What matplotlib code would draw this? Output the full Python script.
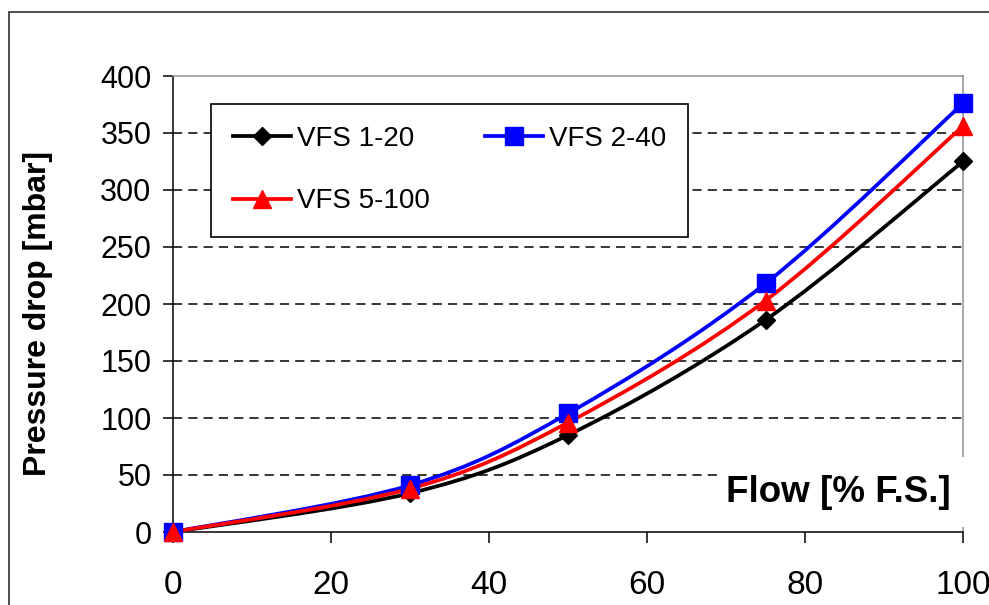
import numpy as np
import matplotlib.pyplot as plt
from matplotlib.path import Path
from matplotlib.patches import PathPatch, Rectangle
from matplotlib.lines import Line2D

plt.rcParams['font.family'] = ['Liberation Sans', 'DejaVu Sans']

# data
flow = [0, 30, 50, 75, 100]
vfs_1_20 = [0, 34, 85, 186, 325]
vfs_2_40 = [0, 41, 104, 218, 376]
vfs_5_100 = [0, 38, 96, 203, 356]
y_ticks = [0, 50, 100, 150, 200, 250, 300, 350, 400]
x_ticks = [0, 20, 40, 60, 80, 100]


def smooth_path(x, y):
    # smoothed line like the spreadsheet one (bezier through the points)
    pts = np.column_stack([x, y]).astype(float)
    n = len(pts)
    verts = [pts[0]]
    codes = [Path.MOVETO]
    for i in range(n - 1):
        p0 = pts[max(i - 1, 0)]
        p1 = pts[i]
        p2 = pts[i + 1]
        p3 = pts[min(i + 2, n - 1)]
        verts += [p1 + (p2 - p0) / 6, p2 - (p3 - p1) / 6, p2]
        codes += [Path.CURVE4] * 3
    return Path(verts, codes)


fig = plt.figure(figsize=(9.89, 6.05), dpi=100)
W, H = 989, 605
ax = fig.add_axes([173 / W, 73 / H, 790 / W, 456 / H])

series = [
    ('VFS 1-20', vfs_1_20, 'black', 'D', 9),
    ('VFS 2-40', vfs_2_40, '#0000ff', 's', 13),
    ('VFS 5-100', vfs_5_100, '#ff0000', '^', 13),
]
handles = {}
for name, vals, col, mk, ms in series:
    ax.add_patch(PathPatch(smooth_path(flow, vals), fill=False, edgecolor=col,
                           lw=2.7, zorder=3, capstyle='round'))
    ax.plot(flow, vals, linestyle='none', marker=mk, ms=ms, color=col,
            zorder=4, clip_on=False)
    handles[name] = Line2D([], [], color=col, lw=2.7, marker=mk, ms=ms)

ax.set_xlim(0, 100)
ax.set_ylim(0, 400)
ax.set_xticks(x_ticks)
ax.set_yticks(y_ticks)
ax.tick_params(axis='x', direction='out', length=8, width=1.1, pad=19,
               labelsize=24, colors='black')
ax.tick_params(axis='y', direction='out', length=7.5, width=1.1, pad=8,
               labelsize=22, colors='black')

for v in y_ticks[1:-1]:
    ax.axhline(v, color='black', lw=1.1, linestyle=(0, (6, 4)), zorder=1)

for s in ['left', 'bottom']:
    ax.spines[s].set_color('black')
    ax.spines[s].set_linewidth(1.1)
for s in ['top', 'right']:
    ax.spines[s].set_color('#909090')
    ax.spines[s].set_linewidth(1.1)

leg = ax.legend(handles=[handles['VFS 1-20'], handles['VFS 5-100'], handles['VFS 2-40']],
                labels=['VFS 1-20', 'VFS 5-100', 'VFS 2-40'],
                ncol=2, loc='upper left', bbox_to_anchor=(0.048, 0.9386, 0.604, 0.0),
                mode='expand', borderaxespad=0, fontsize=20, handlelength=2.1,
                handletextpad=0.2, labelspacing=1.3, borderpad=0.8,
                columnspacing=2.0, fancybox=False, framealpha=1, edgecolor='black')
leg.get_frame().set_linewidth(1.2)
leg.set_zorder(5)

# outer frame of the picture
fig.patches.append(Rectangle((9 / W, -0.1), 1.2, 1 - 12 / H + 0.1, transform=fig.transFigure,
                             fill=False, edgecolor='#404040', lw=1.3, zorder=0))

# x title sits inside the plot on a white box
fig.patches.append(Rectangle((718 / W, (H - 527) / H), 260 / W, 70 / H,
                             transform=fig.transFigure, facecolor='white',
                             edgecolor='none', zorder=5))
fig.text(838 / W, 1 - 492 / H, 'Flow [% F.S.]', fontsize=26.5, fontweight='bold',
         ha='center', va='center', zorder=6)
fig.text(38 / W, 1 - 314 / H, 'Pressure drop [mbar]', fontsize=23, fontweight='bold',
         rotation=90, ha='center', va='center')

fig.savefig('out.png', dpi=100)
